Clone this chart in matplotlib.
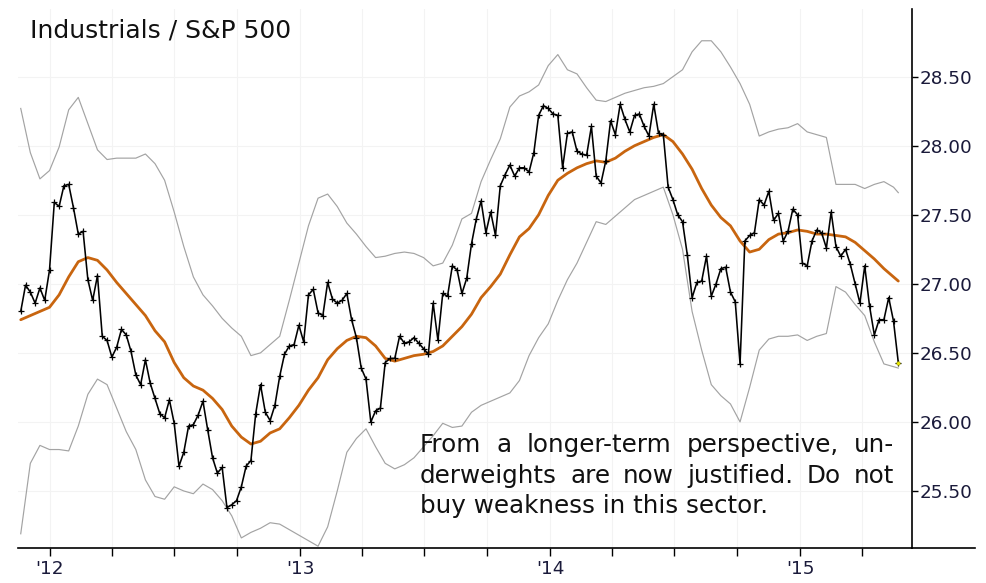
import numpy as np
import pandas as pd
import matplotlib
matplotlib.use("Agg")
import matplotlib.pyplot as plt
import matplotlib.dates as mdates
from matplotlib.lines import Line2D

# ---------------- data ----------------
start_date = "2011-11-20"
ratio = [26.80, 26.99, 26.94, 26.86, 26.97, 26.88, 27.10, 27.59, 27.56, 27.71,
         27.72, 27.55, 27.36, 27.38, 27.03, 26.88, 27.06, 26.62, 26.59, 26.47,
         26.54, 26.67, 26.63, 26.51, 26.34, 26.27, 26.45, 26.28, 26.17, 26.06,
         26.03, 26.16, 25.99, 25.68, 25.78, 25.97, 25.98, 26.05, 26.15, 25.94,
         25.74, 25.63, 25.67, 25.38, 25.40, 25.43, 25.53, 25.68, 25.72, 26.06,
         26.27, 26.07, 26.01, 26.12, 26.33, 26.49, 26.55, 26.56, 26.70, 26.58,
         26.92, 26.96, 26.79, 26.77, 27.01, 26.89, 26.86, 26.88, 26.93, 26.74,
         26.61, 26.39, 26.31, 26.00, 26.08, 26.10, 26.43, 26.46, 26.46, 26.62,
         26.57, 26.58, 26.61, 26.57, 26.53, 26.49, 26.86, 26.59, 26.93, 26.91,
         27.13, 27.10, 26.93, 27.04, 27.29, 27.47, 27.60, 27.37, 27.52, 27.35,
         27.71, 27.79, 27.86, 27.78, 27.84, 27.84, 27.81, 27.95, 28.22, 28.29,
         28.27, 28.23, 28.22, 27.84, 28.09, 28.10, 27.96, 27.94, 27.93, 28.14,
         27.78, 27.73, 27.89, 28.18, 28.08, 28.30, 28.19, 28.10, 28.22, 28.23,
         28.14, 28.07, 28.30, 28.09, 28.08, 27.70, 27.61, 27.50, 27.45, 27.21,
         26.90, 27.01, 27.02, 27.20, 26.91, 27.00, 27.11, 27.12, 26.94, 26.87,
         26.42, 27.31, 27.35, 27.37, 27.61, 27.57, 27.67, 27.46, 27.51, 27.31,
         27.38, 27.54, 27.50, 27.15, 27.13, 27.31, 27.39, 27.37, 27.26, 27.52,
         27.27, 27.20, 27.25, 27.14, 27.00, 26.86, 27.13, 26.84, 26.63, 26.74,
         26.74, 26.90, 26.73, 26.43]

# moving average, read every 2nd week (plus the last week)
moving_avg = [26.74, 26.77, 26.80, 26.83, 26.92, 27.05, 27.16, 27.19, 27.17, 27.10,
              27.01, 26.93, 26.85, 26.77, 26.66, 26.58, 26.43, 26.32, 26.26, 26.23,
              26.17, 26.09, 25.97, 25.89, 25.84, 25.86, 25.92, 25.95, 26.03, 26.12,
              26.23, 26.32, 26.45, 26.53, 26.59, 26.62, 26.61, 26.55, 26.46, 26.44,
              26.46, 26.48, 26.49, 26.51, 26.55, 26.62, 26.69, 26.78, 26.90, 26.98,
              27.07, 27.21, 27.34, 27.40, 27.50, 27.64, 27.75, 27.80, 27.84, 27.87,
              27.89, 27.88, 27.91, 27.96, 28.00, 28.03, 28.06, 28.08, 28.03, 27.94,
              27.83, 27.69, 27.57, 27.48, 27.42, 27.31, 27.23, 27.25, 27.32, 27.36,
              27.37, 27.39, 27.38, 27.36, 27.36, 27.35, 27.34, 27.30, 27.24, 27.18,
              27.11, 27.05, 27.02]

# bands, read every 2nd week (plus the last week)
upper_band = [28.27, 27.95, 27.76, 27.82, 27.99, 28.26, 28.35, 28.16, 27.97, 27.90,
              27.91, 27.91, 27.91, 27.94, 27.87, 27.75, 27.52, 27.27, 27.05, 26.92,
              26.84, 26.75, 26.68, 26.62, 26.48, 26.50, 26.56, 26.62, 26.88, 27.15,
              27.42, 27.62, 27.65, 27.56, 27.44, 27.36, 27.27, 27.19, 27.20, 27.22,
              27.23, 27.22, 27.19, 27.13, 27.15, 27.28, 27.47, 27.51, 27.74, 27.90,
              28.05, 28.28, 28.36, 28.39, 28.44, 28.58, 28.66, 28.55, 28.52, 28.42,
              28.33, 28.32, 28.35, 28.38, 28.40, 28.42, 28.43, 28.45, 28.50, 28.55,
              28.68, 28.76, 28.76, 28.68, 28.57, 28.45, 28.30, 28.07, 28.10, 28.12,
              28.13, 28.16, 28.10, 28.08, 28.06, 27.72, 27.72, 27.72, 27.69, 27.72,
              27.74, 27.70, 27.66]
lower_band = [25.19, 25.70, 25.83, 25.80, 25.80, 25.79, 25.97, 26.20, 26.31, 26.27,
              26.10, 25.93, 25.80, 25.58, 25.46, 25.44, 25.53, 25.50, 25.48, 25.55,
              25.51, 25.43, 25.32, 25.16, 25.20, 25.23, 25.27, 25.26, 25.22, 25.18,
              25.14, 25.10, 25.24, 25.50, 25.78, 25.88, 25.95, 25.82, 25.70, 25.66,
              25.69, 25.74, 25.82, 25.90, 25.99, 25.96, 25.97, 26.07, 26.12, 26.15,
              26.18, 26.21, 26.30, 26.48, 26.61, 26.71, 26.88, 27.03, 27.15, 27.30,
              27.45, 27.43, 27.49, 27.55, 27.61, 27.64, 27.67, 27.70, 27.50, 27.25,
              26.80, 26.52, 26.27, 26.19, 26.13, 26.00, 26.25, 26.52, 26.60, 26.62,
              26.62, 26.63, 26.59, 26.62, 26.64, 26.98, 26.94, 26.85, 26.77, 26.58,
              26.42, 26.40, 26.39]

title = "Industrials / S&P 500"
note_lines = ["From a longer-term perspective, un-",
              "derweights are now justified. Do not",
              "buy weakness in this sector."]
y_ticks = [25.5, 26.0, 26.5, 27.0, 27.5, 28.0, 28.5]

# ---------------- derived dates ----------------
dates = pd.date_range(start_date, periods=len(ratio), freq="7D")
n = len(ratio)
two_week_idx = list(range(0, n - 1, 2)) + [n - 1]
ma_dates = dates[two_week_idx]
band_dates = dates[two_week_idx]

# ---------------- figure ----------------
W, H = 987, 583
fig = plt.figure(figsize=(W / 100, H / 100), dpi=100)
L, R, B, T = 18, 912, 548, 9
ax = fig.add_axes([L / W, 1 - B / H, (R - L) / W, (B - T) / H])

lab_color = "#1a1a3a"
txt_font = "DejaVu Sans"

ax.plot(band_dates, upper_band, color="#a3a3a3", lw=0.85, zorder=2)
ax.plot(band_dates, lower_band, color="#a3a3a3", lw=0.85, zorder=2)
ax.plot(ma_dates, moving_avg, color="#c8650f", lw=2.0, zorder=3,
        solid_capstyle="round", solid_joinstyle="round")
ax.plot(dates, ratio, color="black", lw=1.15, marker="+", ms=4, mew=0.9, zorder=4)
ax.plot(dates[-1:], ratio[-1:], ls="none", marker="o", ms=2.5, mfc="#e8e800",
        mec="#b0b000", mew=0.4, zorder=5)

ax.set_xlim(pd.Timestamp("2011-11-16"), pd.Timestamp("2015-06-13"))
ax.set_ylim(25.087, 28.99)

ax.yaxis.tick_right()
ax.set_yticks(y_ticks)
ax.yaxis.set_major_formatter(matplotlib.ticker.FormatStrFormatter("%.2f"))
ax.tick_params(axis="y", direction="out", length=4.5, width=1.0, pad=1,
               labelsize=13.2, colors="black")
ax.tick_params(axis="y", labelcolor=lab_color)

ax.xaxis.set_major_locator(mdates.YearLocator())
ax.xaxis.set_major_formatter(mdates.DateFormatter("'%y"))
ax.xaxis.set_minor_locator(mdates.MonthLocator(bymonth=[4, 7, 10]))
ax.tick_params(axis="x", which="both", direction="out", length=6, width=1.0,
               pad=3, labelsize=13.2, labelcolor=lab_color)

for lbl in ax.get_xticklabels() + ax.get_yticklabels():
    lbl.set_fontfamily(txt_font)

ax.grid(True, which="both", axis="x", color="#f3f3f3", lw=0.8, zorder=0)
ax.grid(True, which="major", axis="y", color="#f3f3f3", lw=0.8, zorder=0)

for s in ["left", "top"]:
    ax.spines[s].set_visible(False)
ax.spines["right"].set_linewidth(1.2)
ax.spines["bottom"].set_linewidth(1.2)

# bottom line continues beyond the right axis
fig.add_artist(Line2D([R / W, 975 / W], [1 - B / H, 1 - B / H],
                      transform=fig.transFigure, color="black", lw=1.2))

# title
fig.text(30 / W, 1 - 37 / H, title, fontsize=18, family=txt_font,
         color="#111111", va="baseline", ha="left")

# justified note
renderer = fig.canvas.get_renderer()
x0, x1 = 420, 894
baselines = [451.7, 482.7, 513.5]
fs = 17.7
for i, (line, yb) in enumerate(zip(note_lines, baselines)):
    if i == len(note_lines) - 1:
        fig.text(x0 / W, 1 - yb / H, line, fontsize=fs, family=txt_font,
                 color="#111111", va="baseline", ha="left")
        continue
    words = line.split(" ")
    texts = [fig.text(0, 1 - yb / H, w_, fontsize=fs, family=txt_font,
                      color="#111111", va="baseline", ha="left") for w_ in words]
    widths = [t.get_window_extent(renderer).width for t in texts]
    gap = (x1 - x0 - sum(widths)) / (len(words) - 1)
    xx = x0
    for t, wdt in zip(texts, widths):
        t.set_x(xx / W)
        xx += wdt + gap

fig.savefig("out.png", dpi=100)
